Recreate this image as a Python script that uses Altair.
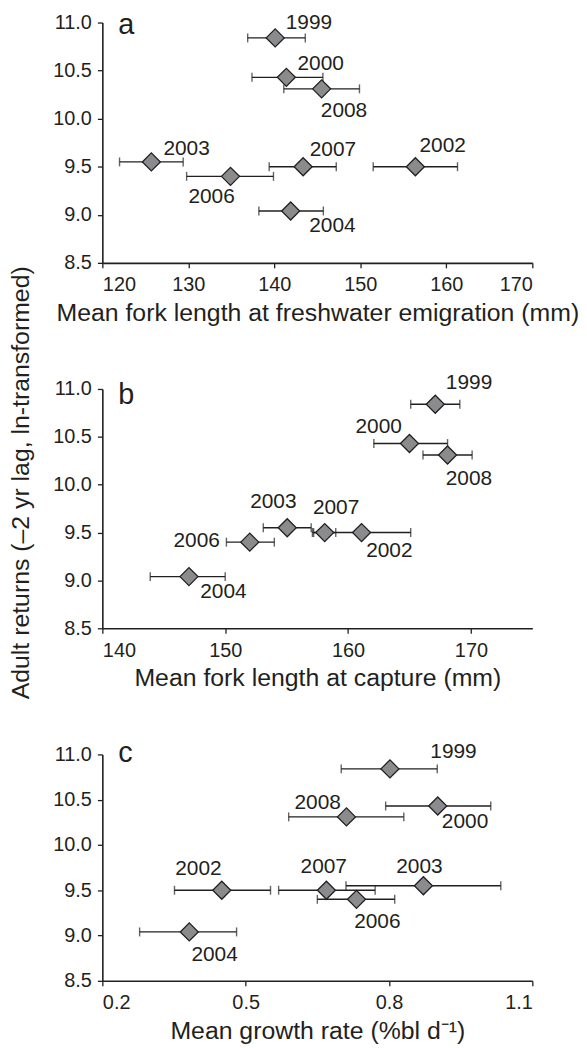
import altair as alt
import pandas as pd

# ---------------- data ----------------
years = ["1999", "2000", "2002", "2003", "2004", "2006", "2007", "2008"]
returns = [10.84, 10.43, 9.50, 9.55, 9.04, 9.40, 9.50, 10.31]

# panel a: mean fork length at freshwater emigration (mm)
fl_emig = [140.1, 141.4, 156.4, 125.7, 141.9, 134.9, 143.35, 145.5]
fl_emig_lo = [136.9, 137.4, 151.5, 122.0, 138.2, 129.8, 139.4, 141.1]
fl_emig_hi = [143.6, 145.65, 161.3, 129.4, 145.7, 139.9, 147.2, 149.9]

# panel b: mean fork length at capture (mm)
fl_cap = [167.1, 165.0, 161.1, 155.05, 147.05, 152.0, 158.1, 168.1]
fl_cap_lo = [165.1, 162.1, 157.1, 153.1, 143.9, 150.1, 157.2, 166.1]
fl_cap_hi = [169.1, 168.1, 165.1, 157.0, 150.0, 154.0, 159.0, 170.1]

# panel c: mean growth rate (%bl d-1)
growth = [0.802, 0.902, 0.450, 0.872, 0.382, 0.732, 0.669, 0.711]
growth_lo = [0.700, 0.793, 0.351, 0.710, 0.278, 0.650, 0.569, 0.590]
growth_hi = [0.901, 1.013, 0.552, 1.034, 0.481, 0.812, 0.771, 0.831]

x_ticks_a = [120, 130, 140, 150, 160, 170]
x_ticks_b = [140, 150, 160, 170]
x_ticks_c = [0.2, 0.5, 0.8, 1.1]
y_ticks = [8.5, 9.0, 9.5, 10.0, 10.5, 11.0]

# ---------------- label placement (pixel offsets, style only) ----------------
lab_dx_a = [34, 34.5, 27.5, 35.5, 42, -19, 30, 22.5]
lab_dy_a = [-15, -13.7, -21.3, -12.7, 15.7, 21.3, -17.3, 22]
lab_dx_b = [34, -31, 28, -14, 34.7, -53.5, 11.5, 21.5]
lab_dy_b = [-21, -16.3, 19, -26.3, 15.3, -0.7, -24.7, 23.7]
lab_dx_c = [64, 27.5, -23.5, -4, 25.5, 21, -2.7, -29]
lab_dy_c = [-16.7, 15.7, -21, -19.3, 23.3, 22.7, -23.3, -14.3]

INK = "#231f20"
FONT = "Liberation Sans"
YTITLE = "Adult returns (\u20132 yr lag, ln-transformed)"
DIAMOND = "M-1,0L0,-1L1,0L0,1Z"
W = 433


def panel(xv, lo, hi, dx, dy, domain, ticks, fmt, xtitle, letter, letter_dy,
          height, ytitle=False):
    df = pd.DataFrame({"year": years, "ret": returns, "x": xv, "lo": lo,
                       "hi": hi, "dx": dx, "dy": dy})
    xs = alt.Scale(domain=domain, nice=False, zero=False)
    ys = alt.Scale(domain=[8.5, 11.0], nice=False, zero=False)
    if ytitle:
        yaxis = alt.Axis(values=y_ticks, format=".1f", title=YTITLE,
                         titleX=-82, titleY=94, titleAngle=270,
                         titleAlign="center", titleBaseline="middle")
    else:
        yaxis = alt.Axis(values=y_ticks, format=".1f", title="")
    xaxis = alt.Axis(values=ticks, format=fmt, title=xtitle)
    xspan = (domain[1] - domain[0]) / W
    yspan = 2.5 / height

    base = alt.Chart(df)
    rules = base.mark_rule(color=INK, strokeWidth=1.4).encode(
        x=alt.X("lo:Q", scale=xs, axis=xaxis),
        x2="hi:Q",
        y=alt.Y("ret:Q", scale=ys, axis=yaxis),
    )
    caps = base.transform_fold(["lo", "hi"], as_=["end", "val"]).mark_tick(
        color=INK, orient="vertical", size=9, thickness=1.4
    ).encode(
        x=alt.X("val:Q", scale=xs, axis=xaxis),
        y=alt.Y("ret:Q", scale=ys, axis=yaxis),
    )
    pts = base.mark_point(shape=DIAMOND, filled=True, size=330,
                          fill="#8b8b8d", stroke=INK, strokeWidth=1.3,
                          opacity=1).encode(
        x=alt.X("x:Q", scale=xs, axis=xaxis),
        y=alt.Y("ret:Q", scale=ys, axis=yaxis),
    )
    labels = base.transform_calculate(
        lx=f"datum.x + datum.dx * {xspan}",
        ly=f"datum.ret - datum.dy * {yspan}",
    ).mark_text(font=FONT, fontSize=21, color=INK, align="center",
                baseline="middle").encode(
        x=alt.X("lx:Q", scale=xs, axis=xaxis),
        y=alt.Y("ly:Q", scale=ys, axis=yaxis),
        text="year:N",
    )
    let = alt.Chart(pd.DataFrame({"letter": [letter]})).mark_text(
        font=FONT, fontSize=29, color=INK, align="left", baseline="alphabetic"
    ).encode(x=alt.value(16), y=alt.value(letter_dy), text="letter:N")
    return alt.layer(rules, caps, pts, labels, let).properties(
        width=W, height=height)


pa = panel(fl_emig, fl_emig_lo, fl_emig_hi, lab_dx_a, lab_dy_a, [120, 170],
           x_ticks_a, "d", "Mean fork length at freshwater emigration (mm)",
           "a", 12, 242)
pb = panel(fl_cap, fl_cap_lo, fl_cap_hi, lab_dx_b, lab_dy_b, [140, 175],
           x_ticks_b, "d", "Mean fork length at capture (mm)", "b", 15, 241,
           ytitle=True)
pc = panel(growth, growth_lo, growth_hi, lab_dx_c, lab_dy_c, [0.2, 1.1],
           x_ticks_c, ".1f", "Mean growth rate (%bl d\u207b\u00b9)", "c", 8, 228)

chart = alt.vconcat(pa, pb, pc, spacing=127, bounds="flush").properties(
    padding={"left": 0, "top": 0, "right": 0, "bottom": 0}
).configure_view(stroke=None).configure_axis(
    grid=False,
    labelFont=FONT, titleFont=FONT,
    labelFontSize=20, titleFontSize=25,
    labelColor=INK, titleColor=INK, titleFontWeight="normal",
    domainColor=INK, domainWidth=1.6,
    tickColor=INK, tickWidth=1.3, tickSize=5,
).configure_axisX(
    labelPadding=7, titlePadding=6
).configure_axisY(
    labelPadding=6
)

chart.save("out.html", embed_options={"renderer": "svg", "actions": False})
